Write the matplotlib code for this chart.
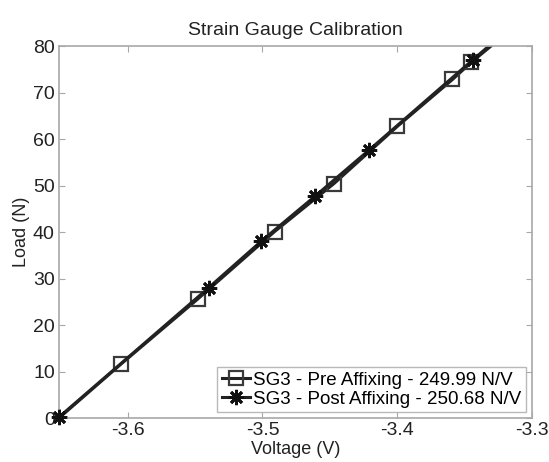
import numpy as np
import matplotlib
matplotlib.use("Agg")
import matplotlib.pyplot as plt

plt.rcParams['font.family'] = ['Liberation Sans', 'DejaVu Sans']

# readings
pre_volts = [-3.651, -3.605, -3.548, -3.491, -3.447, -3.400, -3.359, -3.345, -3.322]
pre_load = [0.0, 11.6, 25.6, 40.1, 50.4, 62.7, 72.8, 76.5, 82.0]
post_volts = [-3.651, -3.540, -3.501, -3.461, -3.421, -3.344, -3.324]
post_load = [0.2, 28.0, 38.0, 47.7, 57.6, 77.0, 82.0]
pre_label = 'SG3 - Pre Affixing - 249.99 N/V'
post_label = 'SG3 - Post Affixing - 250.68 N/V'

fig = plt.figure(figsize=(5.49, 4.62), dpi=100)
ax = fig.add_axes([0.1075, 0.0952, 0.8615, 0.8052])

# pre series: squares (no marker on the origin / clipped end point)
ax.plot(pre_volts, pre_load, '-', color='#222222', lw=2.2, marker='s',
        markersize=10, markerfacecolor='none', markeredgecolor='#3a3a3a',
        markeredgewidth=1.6, markevery=list(range(1, len(pre_volts) - 1)),
        label=pre_label)
# post series: asterisks
star = dict(marker=(8, 2, 0), markersize=11, markeredgecolor='#111111',
            markeredgewidth=2.0)
ax.plot(post_volts, post_load, '-', color='#222222', lw=2.2,
        label=post_label, **star)
# first point sits on the axes corner, keep it unclipped
ax.plot(post_volts[:1], post_load[:1], 'none', color='#222222',
        clip_on=False, zorder=3, **star)

ax.set_xlim(-3.651, -3.3)
ax.set_ylim(0, 80)
ax.set_xticks([-3.6, -3.5, -3.4, -3.3])
ax.set_xticklabels(['-3.6', '-3.5', '-3.4', '-3.3'])
ax.set_yticks(np.arange(0, 81, 10))

ax.set_title('Strain Gauge Calibration', fontsize=14, color='#222222', pad=8)
ax.set_xlabel('Voltage (V)', fontsize=13, color='#222222', labelpad=1)
ax.set_ylabel('Load (N)', fontsize=13, color='#222222', labelpad=2)

for s in ax.spines.values():
    s.set_color('#a8a8a8')
    s.set_linewidth(1.2)
ax.tick_params(direction='in', top=True, right=True, length=4,
               color='#a8a8a8', labelsize=14, labelcolor='#222222', pad=3)

leg = ax.legend(loc='lower right', fontsize=13.5, frameon=True, fancybox=False,
                handlelength=1.5, handletextpad=0.2, borderpad=0.25,
                labelspacing=0.1, borderaxespad=0.3)
leg.get_frame().set_edgecolor('#a8a8a8')
leg.get_frame().set_linewidth(1.0)

fig.savefig('out.png', dpi=100)
